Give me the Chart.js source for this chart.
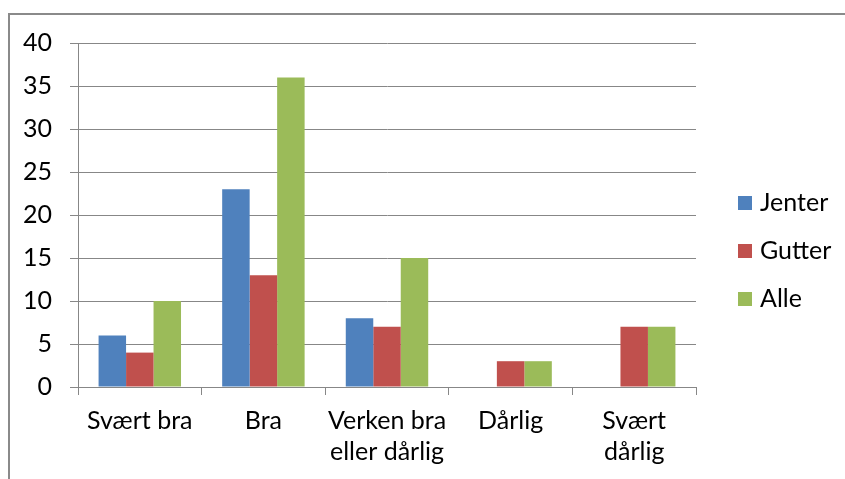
<!DOCTYPE html>
<html>
<head>
<meta charset="utf-8">
<script src="https://cdn.jsdelivr.net/npm/chart.js@4"></script>
<style>
  body { margin: 0; background: #fff; overflow: hidden; }
  #wrap { position: relative; width: 845px; height: 479px; }
  #frame { position: absolute; left: 8px; top: 13px; width: 900px; height: 600px; border: 2px solid #8a8a8a; }
  canvas { position: absolute; left: 0; top: 0; }
  .leg { position: absolute; left: 738px; font: 25px Lato, sans-serif; color: #000; line-height: 24px; }
  .leg span { display: inline-block; width: 14px; height: 14px; margin-right: 8px; vertical-align: 1px; }
</style>
</head>
<body>
<div id="wrap">
  <div id="frame"></div>
  <canvas id="chart" width="845" height="479"></canvas>
  <div id="legend"></div>
</div>
<script>
const categories = [['Svært bra'], ['Bra'], ['Verken bra', 'eller dårlig'], ['Dårlig'], ['Svært', 'dårlig']];
const seriesNames = ['Jenter', 'Gutter', 'Alle'];
const jenter = [6, 23, 8, 0, 0];
const gutter = [4, 13, 7, 3, 7];
const alle = [10, 36, 15, 3, 7];
const colors = ['#4f81bd', '#c0504d', '#9bbb59'];

document.addEventListener('DOMContentLoaded', function() {
    const gridColor = '#878787';
    const font = { family: 'Lato, sans-serif', size: 25 };

    const ctx = document.getElementById('chart').getContext('2d');
    new Chart(ctx, {
        type: 'bar',
        data: {
            labels: categories,
            datasets: [jenter, gutter, alle].map(function(values, i) {
                return {
                    label: seriesNames[i],
                    data: values,
                    backgroundColor: colors[i],
                    borderWidth: 0,
                    categoryPercentage: 0.667,
                    barPercentage: 1
                };
            })
        },
        options: {
            responsive: false,
            animation: false,
            layout: { padding: { left: 0, top: 43, right: 149, bottom: 0 } },
            plugins: {
                legend: { display: false },
                tooltip: { enabled: false }
            },
            scales: {
                x: {
                    afterFit: function(scale) { scale.height = 92; },
                    grid: {
                        offset: true,
                        drawOnChartArea: false,
                        color: gridColor,
                        tickLength: 8
                    },
                    border: { color: gridColor },
                    ticks: {
                        color: '#000',
                        font: Object.assign({ lineHeight: 1.24 }, font),
                        padding: 10,
                        maxRotation: 0,
                        autoSkip: false
                    }
                },
                y: {
                    min: 0,
                    max: 40,
                    afterFit: function(scale) { scale.width = 78; },
                    grid: {
                        color: gridColor,
                        tickLength: 8
                    },
                    border: { color: gridColor },
                    ticks: {
                        stepSize: 5,
                        color: '#000',
                        font: font,
                        padding: 18
                    }
                }
            }
        }
    });

    // legend as plain html
    const legend = document.getElementById('legend');
    const legendY = [201, 249, 297];
    seriesNames.forEach(function(name, i) {
        const item = document.createElement('div');
        item.className = 'leg';
        item.style.top = (legendY[i] - 12) + 'px';
        item.innerHTML = '<span style="background:' + colors[i] + '"></span>' + name;
        legend.appendChild(item);
    });
});
</script>
</body>
</html>
